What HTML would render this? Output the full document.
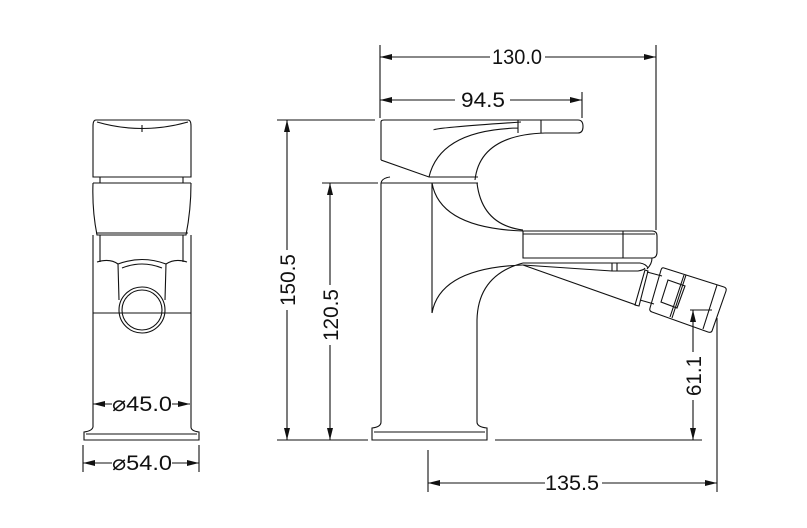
<!DOCTYPE html>
<html><head><meta charset="utf-8"><style>
html,body{margin:0;padding:0;background:#fff;}
svg{display:block;}
text{font-family:"Liberation Sans",sans-serif;font-size:21px;fill:#111;}
</style></head><body>
<svg width="807" height="528" viewBox="0 0 807 528" xmlns="http://www.w3.org/2000/svg">
<defs>
<marker id="a" viewBox="0 0 12 6" refX="12" refY="3" markerWidth="12" markerHeight="6" orient="auto-start-reverse" markerUnits="userSpaceOnUse"><path d="M0,0 L12,3 L0,6z" fill="#111"/></marker>
</defs>
<g stroke="#111" stroke-width="1.1" fill="none">
<path d="M380,45V118 M656,45V230 M582,92V118 M277,120H375 M277,440H368 M322,183H378 M690,310H712 M495,440H702 M428,450V492 M717,318V492 M83,445V472 M199,445V472"/>
<line x1="380" y1="57" x2="490" y2="57" marker-start="url(#a)"/><line x1="545" y1="57" x2="656" y2="57" marker-end="url(#a)"/>
<line x1="380" y1="100" x2="455" y2="100" marker-start="url(#a)"/><line x1="510" y1="100" x2="582" y2="100" marker-end="url(#a)"/>
<line x1="287" y1="120" x2="287" y2="250" marker-start="url(#a)"/><line x1="287" y1="310" x2="287" y2="440" marker-end="url(#a)"/>
<line x1="330" y1="183" x2="330" y2="285" marker-start="url(#a)"/><line x1="330" y1="345" x2="330" y2="440" marker-end="url(#a)"/>
<line x1="693" y1="310" x2="693" y2="352" marker-start="url(#a)"/><line x1="693" y1="400" x2="693" y2="440" marker-end="url(#a)"/>
<line x1="428" y1="483" x2="545" y2="483" marker-start="url(#a)"/><line x1="602" y1="483" x2="717" y2="483" marker-end="url(#a)"/>
<line x1="93" y1="404" x2="112" y2="404" marker-start="url(#a)"/><line x1="172" y1="404" x2="190" y2="404" marker-end="url(#a)"/>
<line x1="83" y1="463" x2="112" y2="463" marker-start="url(#a)"/><line x1="172" y1="463" x2="199" y2="463" marker-end="url(#a)"/>

<path d="M381,160V122Q381,120 384,120H578Q583,120 583,126.5Q583,133 578,133H545"/>
<path d="M381,160L429,177H478"/>
<path d="M429,177Q440,130 518,128 M475,180Q480,135 545,133 M518,120V133 M541,120V133"/>
<path d="M434,130Q432,128 521,122"/>
<path d="M381,183H478 M381,183V422 M477,320V422 M390,177Q382,178 381,183"/>
<path d="M432,183V313 M432,183Q440,228 523,231 M477,183Q482,225 523,230"/>
<path d="M432,313Q440,268 523,265 M477,320Q478,275 523,263"/>
<path d="M523,231H652Q657,231 657,236V252Q657,258 652,258H523Z M623,231V258 M523,234H655"/>
<!-- under spout -->
<path d="M523,263H640Q646,264 648,268 M612,263V271 M617,263V271 M523,265L612,271H638Q644,270 645,268 M652,258Q652,264 647,269"/>
<!-- arm -->
<path d="M523,265L636,305"/>
<!-- collar -->
<path d="M645,270L648,271L639,306L635,305Z"/>
<!-- neck -->
<path d="M647,272L662,276 M640,300L654,304"/>
<!-- nozzle -->
<path d="M664,268L724,287Q727,288 726,291L712,331Q711,333 708,332L652,312Q649,311 650,308L661,270Q662,267 664,268Z"/>
<path d="M717,285L703,329 M686,275L672,318 M684,275L670,317 M668,280L685,286L677,308L661,302Z"/>
<path d="M381,422Q381,427 372,428V440H487V428Q477,427 477,422 M374,432H485"/>

<path d="M96,120H188Q191,120 191,126V177H93V126Q93,120 96,120Z M97,122Q142,135 188,122 M142,125V132"/>
<path d="M100,177V183 M183,177V183 M93,183H191"/>
<path d="M93,183Q92,210 97,235H186Q191,210 191,183 M96,233H188"/>
<path d="M93,235V427 M191,235V427 M93,313H191 M100,235V262 M183,235V262"/>
<path d="M97,262Q110,258 118,264Q142,255 166,264Q175,258 187,262"/>
<path d="M118,264L119,300 M166,264L165,300 M122,268Q142,260 162,268"/>
<circle cx="142" cy="310" r="23"/><circle cx="142" cy="310" r="20"/>
<path d="M93,427Q92,431 84,432V440H199V432Q191,431 191,427 M86,434H197"/>
</g>
<g>
<text x="517" y="64" text-anchor="middle" textLength="50" lengthAdjust="spacingAndGlyphs">130.0</text>
<text x="483" y="107" text-anchor="middle" textLength="44" lengthAdjust="spacingAndGlyphs">94.5</text>
<text x="572" y="490" text-anchor="middle" textLength="54" lengthAdjust="spacingAndGlyphs">135.5</text>
<text transform="translate(295,280) rotate(-90)" text-anchor="middle" textLength="52" lengthAdjust="spacingAndGlyphs">150.5</text>
<text transform="translate(338,315) rotate(-90)" text-anchor="middle" textLength="52" lengthAdjust="spacingAndGlyphs">120.5</text>
<text transform="translate(701,376) rotate(-90)" text-anchor="middle" textLength="40" lengthAdjust="spacingAndGlyphs">61.1</text>
<text x="142" y="411" text-anchor="middle" textLength="60" lengthAdjust="spacingAndGlyphs">⌀45.0</text>
<text x="142" y="470" text-anchor="middle" textLength="60" lengthAdjust="spacingAndGlyphs">⌀54.0</text>
</g>
</svg>
</body></html>
